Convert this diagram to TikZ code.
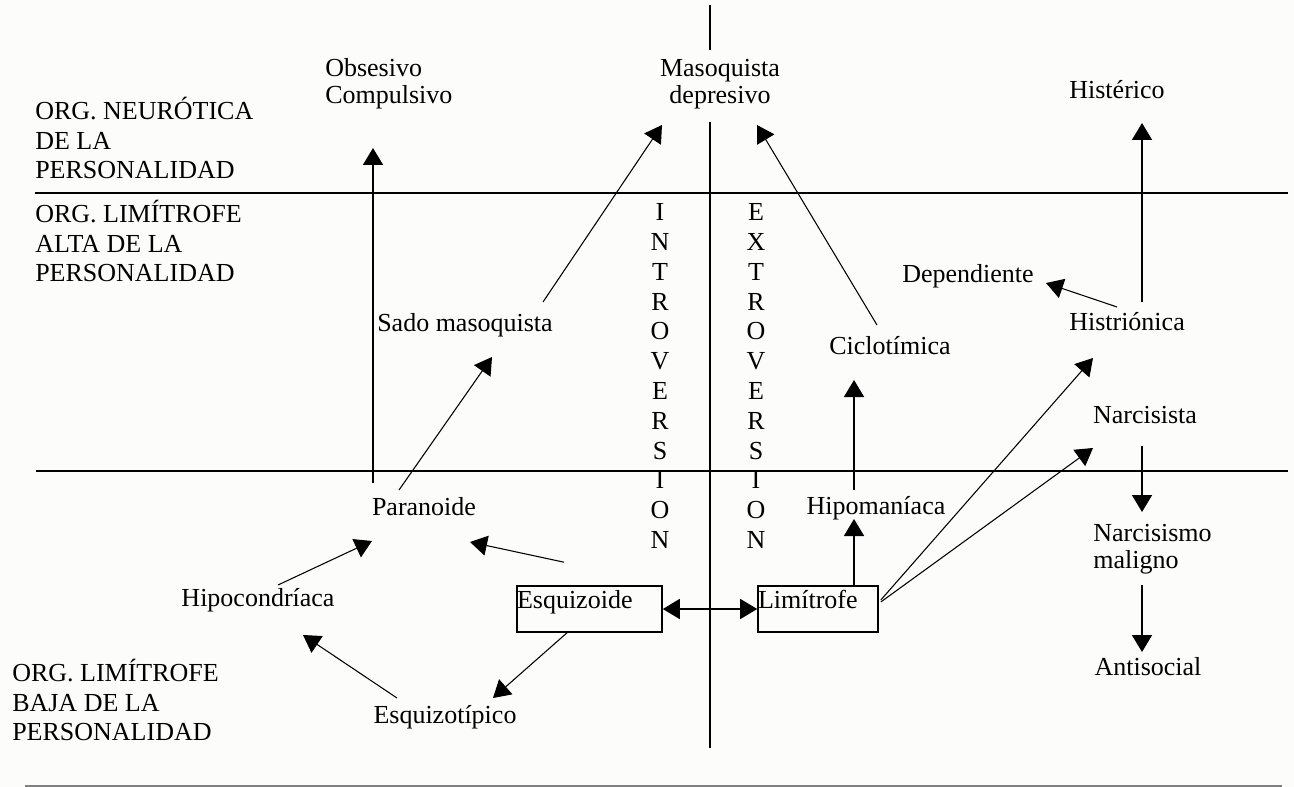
\documentclass[tikz,border=0pt]{standalone}
\usepackage{fontspec}
\setmainfont{Liberation Serif}
\usetikzlibrary{arrows.meta,positioning}
\definecolor{fondo}{HTML}{FCFDFB}
\definecolor{gris}{HTML}{808080}

\begin{document}
\begin{tikzpicture}[x=0.75pt, y=0.75pt,
  txt/.style={inner sep=0pt, align=center, font=\fontsize{19.5pt}{20.5pt}\selectfont},
  nivel/.style={inner sep=0pt, align=left, anchor=west, font=\fontsize{19.5pt}{22pt}\selectfont},
  letras/.style={inner sep=0pt, align=center, font=\fontsize{19.5pt}{22.35pt}\selectfont},
  caja/.style={draw, line width=1.2pt, inner sep=0pt, text width=#1, minimum height=34.5pt,
               align=left, text depth=15pt, font=\fontsize{19.5pt}{21pt}\selectfont},
  eje/.style={line width=1.2pt},
  flecha/.style={-{Triangle[length=12.75pt,width=15pt]}, line width=1.2pt},
  diag/.style={flecha, line width=0.8pt},
  dflecha/.style={{Triangle[length=12.75pt,width=15pt]}-{Triangle[length=12.75pt,width=15pt]}, line width=1.2pt},
]

%% ---- fondo y marco ----
\fill[fondo] (0,0) rectangle (1294,-787);

%% ---- ejes ----
\draw[eje] (35,-193) -- (1288,-193);
\draw[eje] (36,-471) -- (1288,-471);
\draw[eje] (710,-5) -- (710,-50);
\draw[eje] (710,-122) -- (710,-748);
\draw[line width=1.2pt, gris] (25,-786) -- (1282,-786);

%% ---- niveles de organizacion ----
\node[nivel] (neur) at (35,-138) {ORG. NEURÓTICA\\DE LA\\PERSONALIDAD};
\node[nivel] (alta) at (35,-241) {ORG. LIMÍTROFE\\ALTA DE LA\\PERSONALIDAD};
\node[nivel] (baja) at (12,-700) {ORG. LIMÍTROFE\\BAJA DE LA\\PERSONALIDAD};

%% ---- introversion / extroversion ----
\node[letras] (introv) at (660,-376) {I\\N\\T\\R\\O\\V\\E\\R\\S\\I\\O\\N};
\node[letras] (extrov) at (756,-376) {E\\X\\T\\R\\O\\V\\E\\R\\S\\I\\O\\N};

%% ---- cuadros ----
\node[caja=108.75pt] (esqz) at (589.5,-609) {Esquizoide};
\node[caja=90pt] (limi) at (818,-609) {Limítrofe};

%% ---- tipos de personalidad ----
\node[txt, anchor=west, align=left] (obses) at (325,-84) {Obsesivo\\Compulsivo};
\node[txt] (masoq) at (720,-84) {Masoquista\\depresivo};
\node[txt] (hister) at (1117,-90) {Histérico};
\node[txt] (sado) at (465,-325) {Sado masoquista};
\node[txt] (ciclo) at (890,-346) {Ciclotímica};
\node[txt] (depen) at (968,-276) {Dependiente};
\node[txt] (histr) at (1127,-322) {Histriónica};
\node[txt] (narcis) at (1145,-415) {Narcisista};
\node[txt] (paran) at (424,-507) {Paranoide};
\node[txt] (hipom) at (876,-508) {Hipomaníaca};
\node[txt, anchor=west, align=left] (narmal) at (1093,-549) {Narcisismo\\maligno};
\node[txt] (antis) at (1148,-667) {Antisocial};
\node[txt] (hipoc) at (258,-600) {Hipocondríaca};
\node[txt] (esqt) at (445,-717) {Esquizotípico};

%% ---- flechas ----
% lado introvertido
\draw[flecha] ([shift={(-51,24)}]paran.center) -- ([shift={(48,-64)}]obses.west);
\draw[diag] ([shift={(-25,17)}]paran.center) -- ([shift={(27,-32)}]sado.center);
\draw[diag] ([shift={(78,23)}]sado.center) -- ([shift={(-58,-41)}]masoq.center);
\draw[diag] ([shift={(-25.5,23)}]esqz.north) -- ([shift={(46,-35)}]paran.center);
\draw[diag] ([shift={(-22.5,0)}]esqz.south) -- ([shift={(48,19)}]esqt.center);
\draw[diag] ([shift={(-48,19)}]esqt.center) -- ([shift={(45,-35)}]hipoc.center);
\draw[diag] ([shift={(20,15)}]hipoc.center) -- ([shift={(-52,-34)}]paran.center);

% entre los cuadros
\draw[dflecha] (esqz.east) -- (limi.west);

% lado extrovertido
\draw[flecha] ([xshift=27pt]limi.north) -- ([shift={(-22,-11)}]hipom.center);
\draw[flecha] ([shift={(-22,18)}]hipom.center) -- ([shift={(-36,-34)}]ciclo.center);
\draw[diag] ([shift={(-13,21)}]ciclo.center) -- ([shift={(37,-41)}]masoq.center);
\draw[diag] ([shift={(2,9)}]limi.east) -- ([shift={(-34,-36)}]histr.center);
\draw[diag] ([shift={(2,7)}]limi.east) -- ([shift={(-52,-33)}]narcis.center);
\draw[flecha] ([shift={(15,20)}]histr.center) -- ([shift={(25,-33)}]hister.center);
\draw[diag] ([shift={(-10,15)}]histr.center) -- ([shift={(78,-7)}]depen.center);
\draw[flecha] ([shift={(-3,-31)}]narcis.center) -- ([shift={(49,37)}]narmal.west);
\draw[flecha] ([shift={(49,-36)}]narmal.west) -- ([shift={(-6,15)}]antis.center);

\end{tikzpicture}
\end{document}
